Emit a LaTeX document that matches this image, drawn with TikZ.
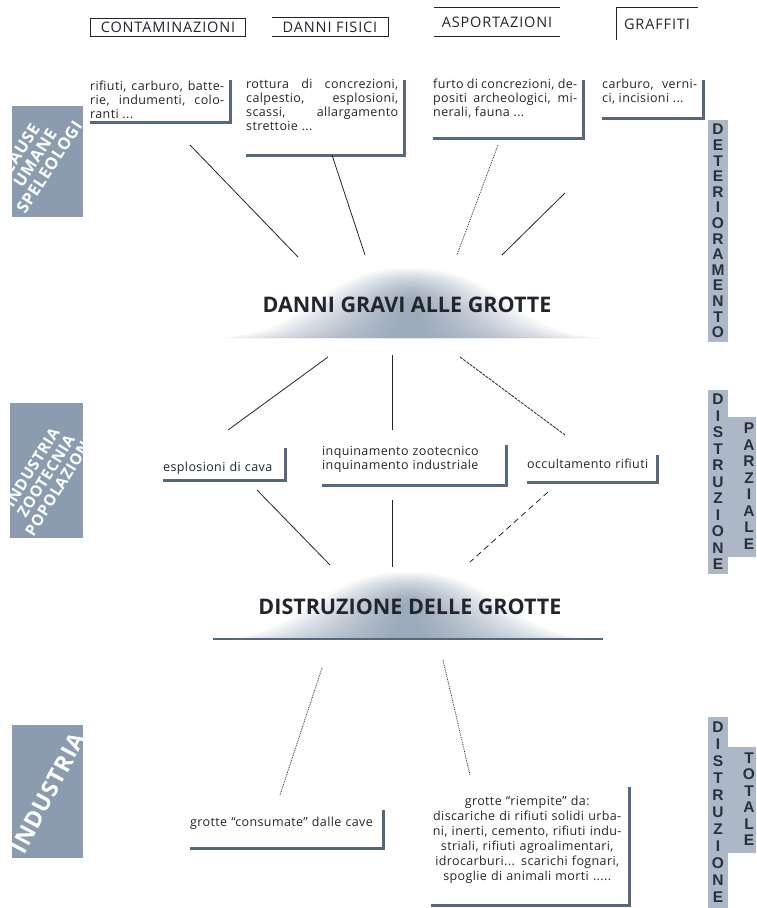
\documentclass[tikz,border=0pt]{standalone}
\usepackage{fontspec}
\setmainfont{Open Sans}
\newfontfamily\headfont[LetterSpace=6]{Open Sans}
\newfontfamily\bodyfont[LetterSpace=3]{Open Sans}
\newfontfamily\sidefont[LetterSpace=4]{Open Sans}
\newfontfamily\vertfont{Liberation Sans}
\usepackage{tikz}
\usetikzlibrary{positioning}
\definecolor{myslate}{RGB}{86,104,126}
\definecolor{mygrey}{RGB}{140,156,176}
\definecolor{mypale}{RGB}{172,184,199}
\definecolor{mymound}{RGB}{112,134,160}
\definecolor{myink}{RGB}{34,38,44}
\tikzstyle{note}=[anchor=north west, inner sep=0pt, align=justify, text=myink, font={\bodyfont\fontsize{12.5}{14}\selectfont}]
\tikzstyle{rim}=[draw=myslate, line width=3pt]
\tikzstyle{head}=[inner sep=0pt, text=myink, font={\headfont\fontsize{14.5}{16}\selectfont}]
\tikzstyle{side}=[fill=mygrey, inner sep=0pt]
\tikzstyle{sidetext}=[text=white, align=center, inner sep=0pt, font={\sidefont\bfseries\fontsize{16}{16.5}\selectfont}]
\tikzstyle{column}=[fill=mypale, inner sep=0pt, minimum width=20pt, align=center, text=myink!85!myslate, font={\vertfont\bfseries\fontsize{15.5}{16.5}\selectfont}]
\tikzstyle{letters}=[inner sep=0pt, align=center, text=myink!85!myslate, font={\vertfont\bfseries\fontsize{15.5}{16.5}\selectfont}]
\tikzstyle{title}=[text=myink, inner sep=0pt, font={\bfseries\fontsize{21.5}{24}\selectfont}]
\tikzstyle{mound}=[fill=mymound, opacity=0.045]

\begin{document}
\begin{tikzpicture}[x=1pt,y=-1pt, link/.style={draw=myink, line width=0.8pt}, frame/.style={draw=myink, line width=0.8pt}]
\useasboundingbox (0,0) rectangle (756,908);
\fill[white] (0,0) rectangle (756,908);
\foreach \s in {1,0.96,...,0.12} {
  \fill[mound, shift={(410,338)}, xscale=\s, yscale=0.5+0.5*\s] (-198,0) .. controls (-100,-1) and (-95,-70) .. (0,-70) .. controls (95,-70) and (100,-1) .. (200,0) -- cycle;
  \fill[mound, shift={(408,639)}, xscale=\s, yscale=0.5+0.5*\s] (-195,0) .. controls (-100,-1) and (-95,-67) .. (0,-67) .. controls (95,-67) and (100,-1) .. (195,0) -- cycle;
}
\draw[myslate, line width=1.5pt] (213,639) -- (603,639);
\node[head, draw=myink, line width=0.8pt, minimum width=155pt, minimum height=18pt] (h1) at (168,27) {CONTAMINAZIONI};
\node[head, minimum width=116pt, minimum height=18pt] (h2) at (330,27) {DANNI FISICI};
\node[head, minimum width=125pt, minimum height=28pt] (h3) at (497,22) {ASPORTAZIONI};
\node[head, minimum width=81pt, minimum height=32pt] (h4) at (657,24) {GRAFFITI};
\draw[frame] (h2.north west) -- (h2.north east) -- (h2.south east) -- (h2.south west);
\draw[frame] (h3.north west) -- (h3.north east) (h3.south west) -- (h3.south east);
\draw[frame] (h4.south west) -- (h4.north west) -- (h4.north east);
\node[note, text width=134pt, text height=10pt, text depth=32pt] (n1) at (90,80) {rifiuti, carburo, batte-\linebreak rie, indumenti, colo-\linebreak ranti ...};
\node[note, text width=152pt, text height=8pt, text depth=67pt] (n2) at (246,80) {rottura di concrezioni,\linebreak calpestio, esplosioni,\linebreak scassi, allargamento\linebreak strettoie ...};
\node[note, text width=144pt, text height=8pt, text depth=50pt] (n3) at (433,80) {furto di concrezioni, de-\linebreak positi archeologici, mi-\linebreak nerali, fauna ...};
\node[note, text width=95pt, text height=8pt, text depth=30pt] (n4) at (602,80) {carburo, verni-\linebreak ci, incisioni ...};
\node[note, align=left, text width=116pt, text height=23pt, text depth=9pt] (m1) at (163,448) {esplosioni di cava};
\node[note, align=left, text width=178pt, text height=10pt, text depth=30pt] (m2) at (322,445) {inquinamento zootecnico\\inquinamento industriale};
\node[note, align=left, text width=124pt, text height=13pt, text depth=14pt] (m3) at (527,455) {occultamento rifiuti};
\node[note, align=left, text width=187pt, text height=16pt, text depth=22pt] (b1) at (190,810) {grotte “consumate” dalle cave};
\node[note, align=center, text width=192pt, text height=18pt, text depth=100pt, font={\bodyfont\fontsize{12.5}{15}\selectfont}] (b2) at (431,787) {grotte “riempite” da:\\discariche di rifiuti solidi urba-\\ni, inerti, cemento, rifiuti indu-\\striali, rifiuti agroalimentari,\\idrocarburi... scarichi fognari,\\spoglie di animali morti .....};
\foreach \n in {n1,n2,n3,n4,m1,m2,m3,b1,b2}
  \draw[rim] ([xshift=6pt]\n.north east) |- (\n.south west);
\node[title] (g1) at (407,305) {DANNI GRAVI ALLE GROTTE};
\node[title] (g2) at (410,607) {DISTRUZIONE DELLE GROTTE};
\node[side, minimum width=71pt, minimum height=111pt] (s1) at (47,161.5) {};
\node[sidetext, rotate=57, font={\sidefont\bfseries\fontsize{16.5}{17}\selectfont}] (t1) at (35,158) {CAUSE\\UMANE\\SPELEOLOGI};
\node[side, minimum width=73pt, minimum height=135pt] (s2) at (46.5,470.5) {};
\node[sidetext, rotate=58, font={\sidefont\bfseries\fontsize{15.5}{16.5}\selectfont}] (t2) at (46,476) {INDUSTRIA\\ZOOTECNIA\\POPOLAZIONE};
\node[side, minimum width=71pt, minimum height=133pt] (s3) at (47.5,791.5) {};
\node[sidetext, rotate=62, font={\sidefont\bfseries\fontsize{23}{24}\selectfont}] (t3) at (48,793) {INDUSTRIA};
\node[column, minimum height=222pt, font={\vertfont\bfseries\fontsize{15.5}{15.6}\selectfont}] (r1) at (718,231) {D\\E\\T\\E\\R\\I\\O\\R\\A\\M\\E\\N\\T\\O};
\node[column, minimum height=184pt] (r2) at (718,482) {D\\I\\S\\T\\R\\U\\Z\\I\\O\\N\\E};
\node[column, minimum width=28pt, minimum height=140pt] (r3) at (742,487) {};
\node[letters] (r4) at (749,486) {P\\A\\R\\Z\\I\\A\\L\\E};
\node[column, minimum height=191pt, font={\vertfont\bfseries\fontsize{15.5}{17}\selectfont}] (r5) at (718,812.5) {D\\I\\S\\T\\R\\U\\Z\\I\\O\\N\\E};
\node[column, minimum width=28pt, minimum height=106pt] (r6) at (742,800) {};
\node[letters] (r7) at (749,799) {T\\O\\T\\A\\L\\E};
\coordinate (u1) at (190,145); \coordinate (v1) at (298,257);
\coordinate (u2) at (332,155); \coordinate (v2) at (365,255);
\coordinate (u3) at (498,145); \coordinate (v3) at (457,255);
\coordinate (u4) at (565,193); \coordinate (v4) at (502,255);
\coordinate (u5) at (328,357); \coordinate (v5) at (228,430);
\coordinate (u6) at (392,355); \coordinate (v6) at (392,430);
\coordinate (u7) at (460,357); \coordinate (v7) at (565,435);
\coordinate (u8) at (257,490); \coordinate (v8) at (330,565);
\coordinate (u9) at (392,500); \coordinate (v9) at (392,567);
\coordinate (u10) at (548,492); \coordinate (v10) at (470,562);
\coordinate (u11) at (322,668); \coordinate (v11) at (280,795);
\coordinate (u12) at (443,660); \coordinate (v12) at (470,775);
\draw[link] (u1) -- (v1);
\draw[link] (u2) -- (v2);
\draw[link, densely dotted] (u3) -- (v3);
\draw[link] (u4) -- (v4);
\draw[link] (u5) -- (v5);
\draw[link] (u6) -- (v6);
\draw[link, dash pattern=on 3pt off 1pt] (u7) -- (v7);
\draw[link] (u8) -- (v8);
\draw[link] (u9) -- (v9);
\draw[link, dash pattern=on 6pt off 4pt] (u10) -- (v10);
\draw[link, densely dotted] (u11) -- (v11);
\draw[link, densely dotted] (u12) -- (v12);
\end{tikzpicture}
\end{document}
